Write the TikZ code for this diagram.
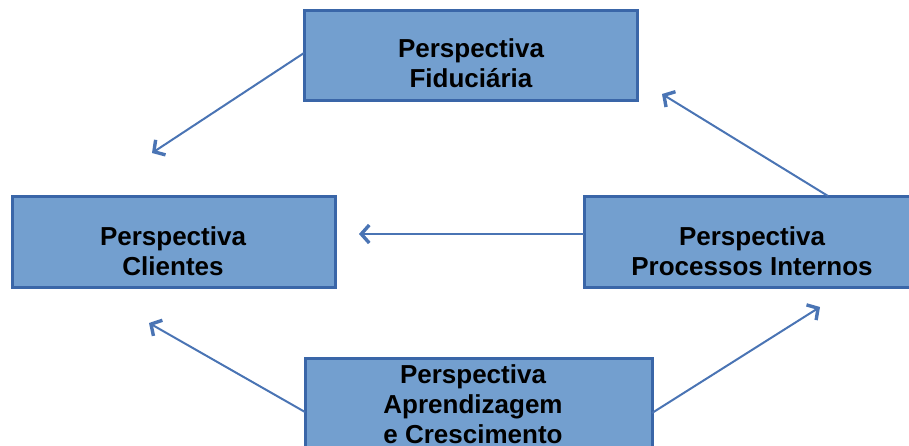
\documentclass[tikz,border=0pt]{standalone}
\usepackage{fontspec}
\setmainfont{Liberation Sans}
\usetikzlibrary{arrows.meta}
\definecolor{boxfill}{RGB}{115,159,207}
\definecolor{boxline}{RGB}{58,102,168}
\definecolor{arrowline}{RGB}{74,116,180}

\begin{document}
\begin{tikzpicture}[x=1pt, y=-1pt,
    perspbox/.style={draw=boxline, fill=boxfill, line width=3pt},
    persptext/.style={align=center, font=\fontsize{26}{30}\selectfont\bfseries, inner sep=0pt},
    link/.style={draw=arrowline, line width=2pt, -{Straight Barb[length=8pt, width=18pt, line width=3.4pt]}}]
    \useasboundingbox (0,0) rectangle (909,445);
    \clip (0,0) rectangle (909,445);

    % Boxes
    \path[perspbox] (304,10) rectangle (637,100);
    \node[persptext] (fid) at (471,63) {Perspectiva\\Fiduciária};
    \path[perspbox] (12,196) rectangle (335,287);
    \node[persptext] (cli) at (173,251) {Perspectiva\\Clientes};
    \path[perspbox] (584,196) rectangle (925,287);
    \node[persptext] (proc) at (752,251) {Perspectiva\\Processos Internos};
    \path[perspbox] (305,358) rectangle (652,470);
    \node[persptext] (apr) at (473,404) {Perspectiva\\Aprendizagem\\e Crescimento};

    % Named ends of the arrows
    \coordinate (fidW) at (304,53);
    \coordinate (procW) at (584,234);
    \coordinate (procN) at (828,196);
    \coordinate (aprW) at (305,412);
    \coordinate (aprE) at (652,413);
    \coordinate (toCliTop) at (152,153);
    \coordinate (toCliRight) at (359,234);
    \coordinate (toCliBottom) at (149,323);
    \coordinate (toFid) at (662,94);
    \coordinate (toProc) at (820,307);

    % Arrows
    \draw[link] (fidW) -- (toCliTop);
    \draw[link] (procW) -- (toCliRight);
    \draw[link] (procN) -- (toFid);
    \draw[link] (aprW) -- (toCliBottom);
    \draw[link] (aprE) -- (toProc);
\end{tikzpicture}
\end{document}
